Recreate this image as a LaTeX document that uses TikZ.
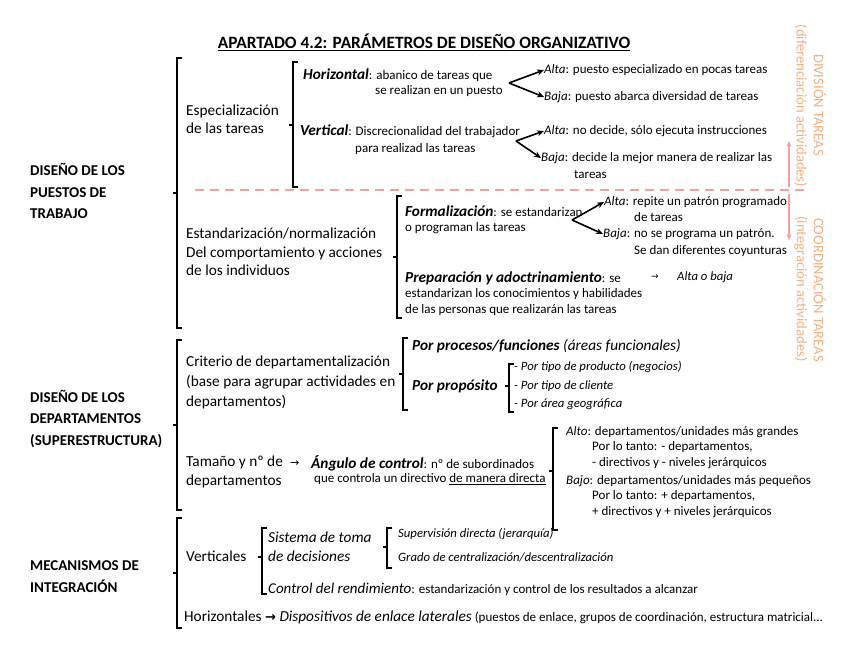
\documentclass[tikz,border=0pt]{standalone}
\usepackage{fontspec}
\setmainfont{Carlito}
\newfontfamily\symfont{DejaVu Sans}
\usetikzlibrary{arrows.meta}
\definecolor{pinkline}{HTML}{F4A0A0}
\definecolor{orangetxt}{HTML}{F4B183}
\newcommand\fsz[2]{\fontsize{#1}{#2}\selectfont}
\newcommand\bi[1]{\textbf{\textit{#1}}}
\newcommand\smallf{\fsz{13}{16}}
\newcommand\keyf{\fsz{15.3}{18}}
\tikzset{
  txt/.style={anchor=west, inner sep=0pt, align=left},
  ttl/.style={txt, anchor=center, font=\bfseries\fsz{17.3}{20}},
  lbl/.style={txt, font=\bfseries\fsz{15}{21.8}},
  mainitem/.style={txt, font=\fsz{15.3}{18.5}},
  smtxt/.style={txt, font=\smallf},
  smit/.style={txt, font=\fsz{12.7}{16}\itshape},
  keytxt/.style={txt, font=\keyf},
  side/.style={inner sep=0pt, rotate=-90, text=orangetxt, font=\fsz{14.6}{16}},
  brk/.style={line width=2.4pt, line join=miter},
  thinbrk/.style={line width=1.6pt},
  branch/.style={line width=1.6pt, -{Stealth[length=7pt,width=6pt]}},
  pinkarrow/.style={draw=pinkline, line width=1.6pt, -{Stealth[length=6pt,width=5pt]}},
}
\newcommand\bracketL[5][brk]{% style, x, ytop, ybot, ytick
  \draw[#1] (#2+5,#3) -- (#2,#3) -- (#2,#4) -- (#2+5,#4);
  \draw[#1] (#2,#5) -- (#2-4,#5);
}
\begin{document}
\begin{tikzpicture}[x=1pt,y=-1pt]
\useasboundingbox (0,0) rectangle (848,655);

% title
\node[ttl] (title) at (424,42) {\underline{APARTADO 4.2: PARÁMETROS DE DISEÑO ORGANIZATIVO}};

% left labels
\node[lbl] (l1) at (30,191) {DISEÑO DE LOS\\PUESTOS DE\\TRABAJO};
\node[lbl] (l2) at (30,419) {DISEÑO DE LOS\\DEPARTAMENTOS\\(SUPERESTRUCTURA)};
\node[lbl] (l3) at (30,577) {MECANISMOS DE\\INTEGRACIÓN};

% big brackets
\bracketL{177}{58}{328}{193}
\bracketL{177}{340}{510}{425}
\bracketL{177}{518}{628}{573}

% ---------- Especialización
\node[mainitem] (esp) at (186,119) {Especialización\\de las tareas};
\bracketL{293}{62}{187}{125}
\node[txt] (hor) at (303,75) {{\keyf\bi{Horizontal}}{\smallf: abanico de tareas que}};
\node[smtxt] (hor2) at (375,91) {se realizan en un puesto};
\node[smtxt] (halta) at (544,70) {\textit{Alta}: puesto especializado en pocas tareas};
\node[smtxt] (hbaja) at (544,97) {\textit{Baja}: puesto abarca diversidad de tareas};
\coordinate (hsrc) at (509,83);
\draw[branch] (hsrc) -- (halta.west);
\draw[branch] (hsrc) -- (hbaja.west);

\node[txt] (ver) at (300,131) {{\keyf\bi{Vertical}}{\smallf: Discrecionalidad del trabajador}};
\node[smtxt] (ver2) at (355,149) {para realizad las tareas};
\node[smtxt] (valta) at (544,131) {\textit{Alta}: no decide, sólo ejecuta instrucciones};
\node[smtxt] (vbaja) at (541,158) {\textit{Baja}: decide la mejor manera de realizar las};
\node[smtxt] (vbaja2) at (574,174) {tareas};
\coordinate (vsrc) at (516,141);
\draw[branch] (vsrc) -- (valta.west);
\draw[branch] (vsrc) -- (vbaja.west);

% dashed separator and side labels
\coordinate (dashL) at (195,190);
\coordinate (dashR) at (806,190);
\draw[pinkline, line width=2.2pt, dash pattern=on 9pt off 6pt] (dashL) -- (dashR);
\coordinate (upS) at (789,187);
\coordinate (upE) at (789,141);
\coordinate (dnS) at (789,194);
\coordinate (dnE) at (789,240);
\draw[pinkarrow] (upS) -- (upE);
\draw[pinkarrow] (dnS) -- (dnE);
\node[side] (div) at (820,105) {DIVISIÓN TAREAS};
\node[side] (difa) at (801,106) {(diferenciación actividades)};
\node[side] (coo) at (820,290) {COORDINACIÓN TAREAS};
\node[side] (inta) at (801,289) {(integración actividades)};

% ---------- Estandarización
\node[mainitem] (est) at (186,252) {Estandarización/normalización\\Del comportamiento y acciones\\de los individuos};
\bracketL{397}{196}{318}{257}
\node[txt] (form) at (405,211) {{\keyf\bi{Formalización}}{\smallf: se estandarizan}};
\node[smtxt] (form2) at (405,228) {o programan las tareas};
\node[smtxt] (falta) at (604,202) {\textit{Alta}: repite un patrón programado};
\node[smtxt] (falta2) at (634,217) {de tareas};
\node[smtxt] (fbaja) at (603,234) {\textit{Baja}: no se programa un patrón.};
\node[smtxt] (fbaja2) at (634,251) {Se dan diferentes coyunturas};
\coordinate (fsrc) at (572,220);
\draw[branch] (fsrc) -- (falta.west);
\draw[branch] (fsrc) -- (fbaja.west);
\node[txt] (prep) at (405,278) {{\keyf\bi{Preparación y adoctrinamiento}}{\smallf: se}};
\node[smtxt] (prep2) at (405,294) {estandarizan los conocimientos y habilidades};
\node[smtxt] (prep3) at (405,310) {de las personas que realizarán las tareas};
\node[txt, font=\fsz{9}{12}\symfont] (parr) at (651,277) {→};
\node[smit] (altabaja) at (677,277) {Alta o baja};

% ---------- Departamentos
\node[mainitem, font=\fsz{15.3}{20}] (crit) at (186,382) {Criterio de departamentalización\\(base para agrupar actividades en\\departamentos)};
\bracketL{403}{338}{410}{374}
\node[keytxt] (proc) at (412,346) {\bi{Por procesos/funciones} \textit{(áreas funcionales)}};
\node[keytxt] (prop) at (412,386) {\bi{Por propósito}};
\bracketL[thinbrk]{509}{364}{412}{386}
\node[smit] (pp1) at (514,367) {- Por tipo de producto (negocios)};
\node[smit] (pp2) at (514,386) {- Por tipo de cliente};
\node[smit] (pp3) at (514,404) {- Por área geográfica};

\node[mainitem] (tam) at (186,472) {Tamaño y nº de\\departamentos};
\node[txt, font=\fsz{11}{14}\symfont] (tarr) at (290,464) {→};
\node[txt] (ang) at (311,463) {{\keyf\bi{Ángulo de control}}{\smallf: nº de subordinados}};
\node[smtxt] (ang2) at (314,479) {que controla un directivo \underline{de manera directa}};
\bracketL{553}{428}{530}{471}
\node[smtxt] (alto) at (566,432) {\textit{Alto}: departamentos/unidades más grandes};
\node[smtxt] (alto2) at (592,447) {Por lo tanto: - departamentos,};
\node[smtxt] (alto3) at (592,463) {- directivos y - niveles jerárquicos};
\node[smtxt] (bajo) at (566,481) {\textit{Bajo}: departamentos/unidades más pequeños};
\node[smtxt] (bajo2) at (592,496) {Por lo tanto: + departamentos,};
\node[smtxt] (bajo3) at (592,512) {+ directivos y + niveles jerárquicos};

% ---------- Mecanismos
\node[mainitem] (vert) at (186,556) {Verticales};
\bracketL{262}{528}{594}{557}
\node[keytxt, font=\fsz{15.3}{19}\itshape] (sist) at (268,547) {Sistema de toma\\de decisiones};
\bracketL[thinbrk]{387}{528}{568}{547}
\node[smit] (sup) at (398,534) {Supervisión directa (jerarquía)};
\node[smit] (grado) at (398,557) {Grado de centralización/descentralización};
\node[txt] (ctrl) at (268,589) {{\fsz{15}{18}\itshape Control del rendimiento}{\smallf: estandarización y control de los resultados a alcanzar}};
\node[txt] (horiz) at (184,617) {{\fsz{15.3}{18}Horizontales {\symfont\bfseries\fsz{13}{16}→} \textit{Dispositivos de enlace laterales}}{\smallf{} (puestos de enlace, grupos de coordinación, estructura matricial...}};
\end{tikzpicture}
\end{document}
